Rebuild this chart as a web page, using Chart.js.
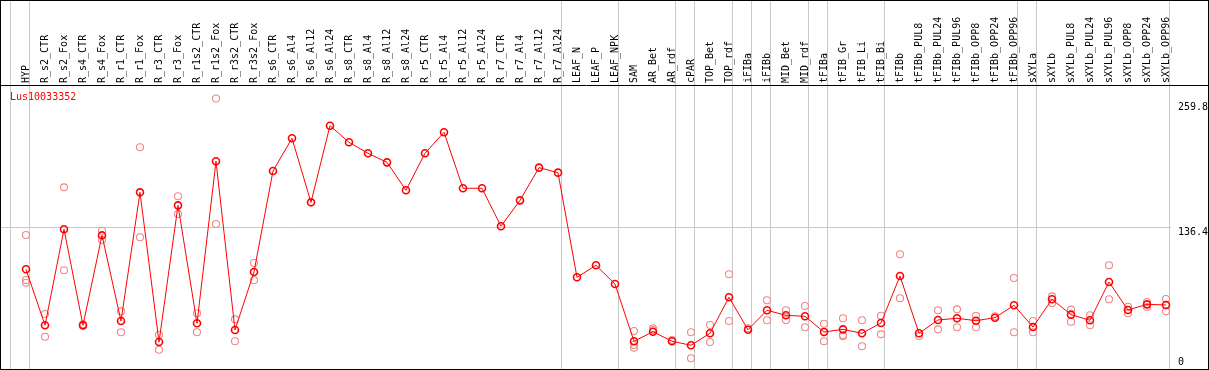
<!DOCTYPE html>
<html>
<head>
<meta charset="utf-8">
<title>Lus10033352</title>
<script src="https://cdn.jsdelivr.net/npm/chart.js@4.4.1/dist/chart.umd.min.js"></script>
<style>
body { margin: 0; background: #fff; }
#plot_box { width: 1207px; height: 368px; border: 1px solid #000; }
</style>
</head>
<body>
<div id="plot_box"><canvas id="expr_chart" width="1207" height="368"></canvas></div>
<script>
const gene = "Lus10033352";

const samples = ["HYP", "R_s2_CTR", "R_s2_Fox", "R_s4_CTR", "R_s4_Fox", "R_r1_CTR", "R_r1_Fox", "R_r3_CTR", "R_r3_Fox",
    "R_r1s2_CTR", "R_r1s2_Fox", "R_r3s2_CTR", "R_r3s2_Fox", "R_s6_CTR", "R_s6_Al4", "R_s6_Al12", "R_s6_Al24",
    "R_s8_CTR", "R_s8_Al4", "R_s8_Al12", "R_s8_Al24", "R_r5_CTR", "R_r5_Al4", "R_r5_Al12", "R_r5_Al24",
    "R_r7_CTR", "R_r7_Al4", "R_r7_Al12", "R_r7_Al24", "LEAF_N", "LEAF_P", "LEAF_NPK", "SAM", "AR_Bet", "AR_rdf",
    "cPAR", "TOP_Bet", "TOP_rdf", "iFIBa", "iFIBb", "MID_Bet", "MID_rdf", "tFIBa", "tFIB_Gr", "tFIB_Li", "tFIB_Bi",
    "tFIBb", "tFIBb_PUL8", "tFIBb_PUL24", "tFIBb_PUL96", "tFIBb_OPP8", "tFIBb_OPP24", "tFIBb_OPP96",
    "sXYLa", "sXYLb", "sXYLb_PUL8", "sXYLb_PUL24", "sXYLb_PUL96", "sXYLb_OPP8", "sXYLb_OPP24", "sXYLb_OPP96"];

// mean expression per sample (red line)
const means = [95.8, 42.0, 134.2, 42.0, 128.4, 46.1, 169.7, 25.9, 157.2,
    43.9, 199.5, 37.5, 93.2, 190.2, 221.6, 160.1, 233.7,
    217.8, 207.2, 198.5, 171.7, 207.2, 227.4, 173.6, 173.6,
    137.1, 162.0, 193.4, 188.6, 88.1, 99.6, 81.6, 26.6, 35.8, 26.6,
    22.8, 34.3, 68.9, 37.7, 56.4, 51.6, 50.6, 35.5, 38.1, 34.3, 44.2,
    89.3, 34.3, 47.1, 48.7, 46.4, 49.3, 61.2,
    40.3, 67.0, 52.2, 46.8, 83.6, 56.7, 62.1, 61.5];

// single replicates (pink circles), null where none is shown
const rep1 = [128.7, 52.8, 174.5, 42.9, 132.8, 55.4, 213.0, 32.7, 165.9,
    53.5, 259.8, 47.7, 101.8, null, null, null, null,
    null, null, null, null, null, null, null, null,
    null, null, null, null, null, null, null, 36.5, 39.1, 27.9,
    35.3, 42.3, 91.0, 39.1, 66.0, 56.4, 60.5, 43.5, 48.7, 46.8, 51.2,
    110.2, 31.7, 56.4, 57.3, 51.2, 50.6, 87.4,
    46.1, 69.8, 57.0, 51.6, 99.6, 59.8, 64.4, 67.2];
const rep2 = [85.5, 31.0, 94.8, 41.3, 123.9, 35.3, 126.5, 18.5, 148.9,
    35.3, 139.3, 26.6, 85.2, null, null, null, null,
    null, null, null, null, null, null, null, null,
    null, null, null, null, null, null, null, 23.1, 37.5, null,
    10.3, 25.9, 46.1, null, 46.8, 47.1, 40.1, 26.6, 32.7, 21.8, 33.3,
    67.9, null, 38.1, 40.1, 40.1, null, 35.3,
    35.3, 63.4, 45.4, 42.0, 67.0, 53.5, 59.6, 55.4];
const rep3 = [82.9, null, null, null, null, null, null, null, null,
    null, null, null, null, null, null, null, null,
    null, null, null, null, null, null, null, null,
    null, null, null, null, null, null, null, 20.5, null, null,
    null, null, null, null, null, null, null, null, 31.4, null, null,
    null, null, null, null, null, null, null,
    null, null, null, null, null, null, null, null];

// sample index after which a group separator is drawn
const groupEnds = [-1, 0, 28, 31, 34, 35, 37, 38, 39, 41, 42, 45, 52, 53, 60];

const yTicks = [0, 136.4, 259.8];
const yMax = 272.8;

const mono = "'DejaVu Sans Mono', 'Liberation Mono', monospace";
const sepColor = "#c8c8c8";

function isSep(v) {
    return !Number.isInteger(v);
}

var repPoints = [];
[rep1, rep2, rep3].forEach(function (rep) {
    rep.forEach(function (v, i) {
        if (v !== null) repPoints.push({ x: i, y: v });
    });
});

const geneLabel = {
    id: "geneLabel",
    afterDraw: function (chart) {
        const ctx = chart.ctx;
        const area = chart.chartArea;
        ctx.save();
        // header rule over the value axis corner
        ctx.strokeStyle = "#000";
        ctx.lineWidth = 1;
        ctx.beginPath();
        ctx.moveTo(area.right, area.top + 0.5);
        ctx.lineTo(chart.width, area.top + 0.5);
        ctx.stroke();
        ctx.fillStyle = "#ff0000";
        ctx.font = "10px " + mono;
        ctx.textBaseline = "middle";
        ctx.fillText(gene, area.left + 9, area.top + 12);
        ctx.restore();
    }
};

new Chart(document.getElementById("expr_chart").getContext("2d"), {
    data: {
        datasets: [{
            type: "line",
            label: gene,
            data: means.map(function (v, i) { return { x: i, y: v }; }),
            borderColor: "#ff0000",
            borderWidth: 1,
            pointRadius: 3.5,
            pointBorderWidth: 1.6,
            pointBorderColor: "#ff0000",
            pointBackgroundColor: "rgba(0,0,0,0)",
            tension: 0,
            order: 0
        }, {
            type: "scatter",
            label: "replicates",
            data: repPoints,
            pointRadius: 3.5,
            pointBorderWidth: 1.1,
            pointBorderColor: "#f08888",
            pointBackgroundColor: "rgba(0,0,0,0)",
            order: 1
        }]
    },
    options: {
        responsive: false,
        animation: false,
        layout: { padding: 0, autoPadding: false },
        plugins: { legend: { display: false }, tooltip: { enabled: false } },
        scales: {
            x: {
                type: "linear",
                position: "top",
                min: -1.3158,
                max: 60.2632,
                afterBuildTicks: function (scale) {
                    var t = samples.map(function (s, i) { return { value: i }; });
                    groupEnds.forEach(function (g) { t.push({ value: g + 0.21 }); });
                    t.sort(function (a, b) { return a.value - b.value; });
                    scale.ticks = t;
                },
                afterFit: function (scale) {
                    scale.height = 84;
                    scale.paddingLeft = 0;
                    scale.paddingRight = 0;
                },
                grid: {
                    color: function (c) { return c.tick && isSep(c.tick.value) ? sepColor : "rgba(0,0,0,0)"; },
                    tickColor: function (c) { return c.tick && isSep(c.tick.value) ? sepColor : "rgba(0,0,0,0)"; },
                    tickLength: 84,
                    lineWidth: 1
                },
                border: { display: true, color: "#000", width: 1 },
                ticks: {
                    autoSkip: false,
                    minRotation: 90,
                    maxRotation: 90,
                    padding: -82,
                    labelOffset: 12,
                    color: "#000",
                    font: { family: mono, size: 10 },
                    callback: function (v) { return isSep(v) ? "" : samples[v]; }
                }
            },
            y: {
                type: "linear",
                position: "right",
                min: 0,
                max: yMax,
                afterBuildTicks: function (scale) {
                    scale.ticks = yTicks.map(function (v) { return { value: v }; });
                },
                afterFit: function (scale) {
                    scale.width = 37;
                    scale.paddingTop = 0;
                    scale.paddingBottom = 0;
                },
                grid: {
                    color: function (c) { return c.tick && c.tick.value === yTicks[1] ? sepColor : "rgba(0,0,0,0)"; },
                    drawTicks: false
                },
                border: { display: false },
                ticks: {
                    padding: 7,
                    color: "#000",
                    font: function (c) {
                        var v = c.tick ? c.tick.value : null;
                        var lh = v === 0 ? "14px" : (v === yTicks[2] ? "17px" : "10px");
                        return { family: mono, size: 10, lineHeight: lh };
                    },
                    callback: function (v) { return v === 0 ? ["0", ""] : ["", String(v)]; }
                }
            }
        }
    },
    plugins: [geneLabel]
});
</script>
</body>
</html>
